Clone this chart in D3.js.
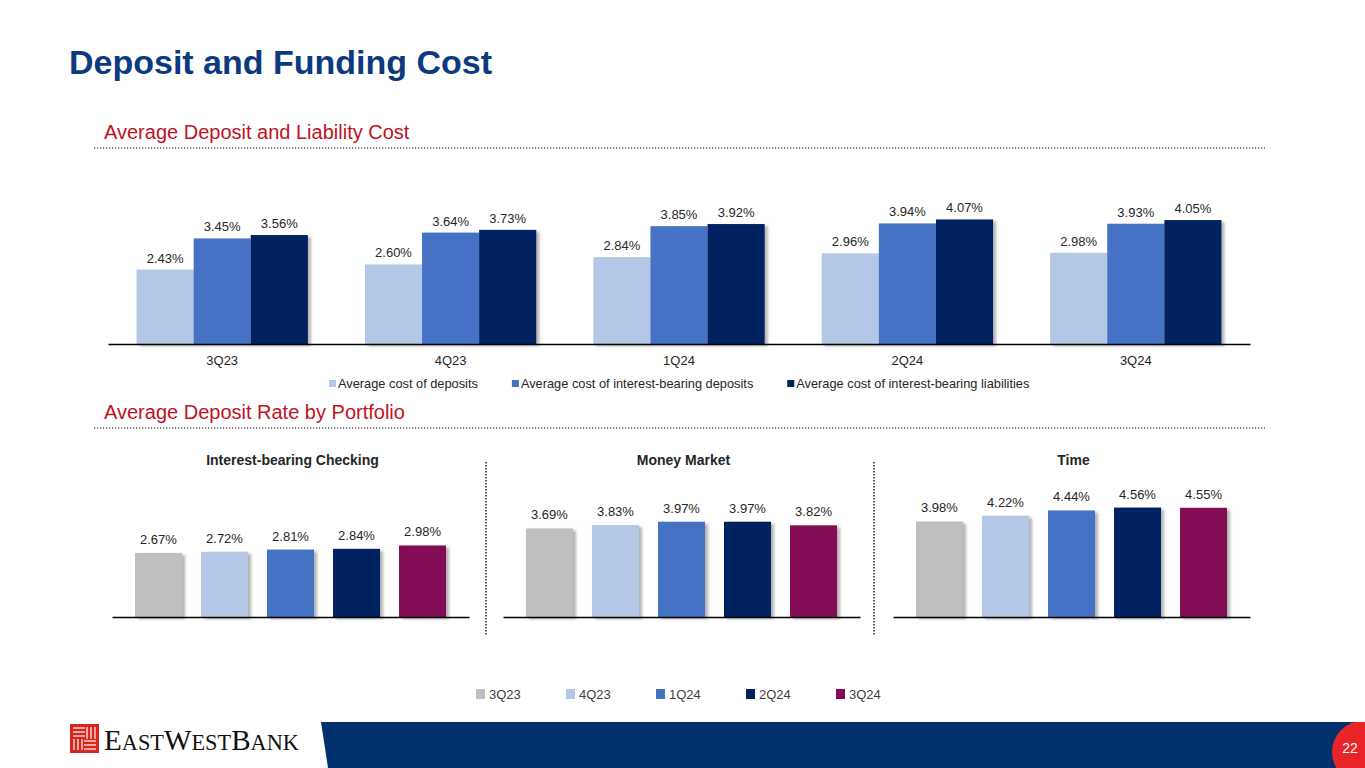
<!DOCTYPE html>
<html>
<head>
<meta charset="utf-8">
<script src="https://cdn.jsdelivr.net/npm/d3@7"></script>
<style>
  html, body { margin: 0; padding: 0; background: #fff; }
  svg { display: block; font-family: "Liberation Sans", Arial, sans-serif; }
</style>
</head>
<body>
<svg id="slide" width="1365" height="768"></svg>
<script>
// quarters shared by both charts
var quarters = ["3Q23", "4Q23", "1Q24", "2Q24", "3Q24"];

// top chart: average deposit and liability cost (%)
var costSeries = ["Average cost of deposits",
                  "Average cost of interest-bearing deposits",
                  "Average cost of interest-bearing liabilities"];
var costDeposits      = [2.43, 2.60, 2.84, 2.96, 2.98];
var costIBDeposits    = [3.45, 3.64, 3.85, 3.94, 3.93];
var costIBLiabilities = [3.56, 3.73, 3.92, 4.07, 4.05];

// bottom charts: average deposit rate by portfolio (%)
var portfolios       = ["Interest-bearing Checking", "Money Market", "Time"];
var checkingRates    = [2.67, 2.72, 2.81, 2.84, 2.98];
var moneyMarketRates = [3.69, 3.83, 3.97, 3.97, 3.82];
var timeRates        = [3.98, 4.22, 4.44, 4.56, 4.55];

var costColors    = ["#B4C7E7", "#4472C4", "#002060"];
var quarterColors = ["#BFBFBF", "#B4C7E7", "#4472C4", "#002060", "#820C55"];

var fmt = d => d.toFixed(2) + "%";

var svg = d3.select("#slide");

// soft shadow like the PowerPoint bars
var defs = svg.append("defs");
var shadow = defs.append("filter").attr("id", "shadow")
  .attr("x", "-10%").attr("y", "-10%").attr("width", "130%").attr("height", "130%");
shadow.append("feDropShadow")
  .attr("dx", 3).attr("dy", 2).attr("stdDeviation", 1.5)
  .attr("flood-color", "#000").attr("flood-opacity", 0.3);

// ---- headings ----
svg.append("text")
  .attr("x", 69).attr("y", 74)
  .attr("font-size", 34).attr("font-weight", "bold")
  .attr("fill", "#0B3A7E")
  .text("Deposit and Funding Cost");

function sectionHeader(label, y) {
	svg.append("text")
	  .attr("x", 104).attr("y", y)
	  .attr("font-size", 20).attr("fill", "#C0111F")
	  .text(label);
	svg.append("line")
	  .attr("x1", 94).attr("x2", 1265)
	  .attr("y1", y + 9).attr("y2", y + 9)
	  .attr("stroke", "#808080").attr("stroke-width", 2)
	  .attr("stroke-dasharray", "1.2,1.8");
}
sectionHeader("Average Deposit and Liability Cost", 139);
sectionHeader("Average Deposit Rate by Portfolio", 419);

// ---- top grouped bar chart ----
var costValues = [costDeposits, costIBDeposits, costIBLiabilities];
var costRows = quarters.map((q, i) => ({
	quarter: q,
	values: costSeries.map((s, j) => ({ series: s, idx: j, value: costValues[j][i] }))
}));

var x0 = d3.scaleBand().domain(quarters).range([108, 1250])
  .paddingInner(0.25).paddingOuter(0.125);
var x1 = d3.scaleBand().domain(costSeries).range([0, x0.bandwidth()]);
var yTop = d3.scaleLinear().domain([0, 5]).range([344, 344 - 153]);

var groups = svg.append("g").selectAll("g")
  .data(costRows).join("g")
  .attr("transform", d => "translate(" + x0(d.quarter) + ",0)");

groups.selectAll("rect")
  .data(d => d.values).join("rect")
  .attr("x", d => x1(d.series))
  .attr("y", d => yTop(d.value))
  .attr("width", x1.bandwidth())
  .attr("height", d => yTop(0) - yTop(d.value))
  .attr("fill", d => costColors[d.idx])
  .attr("filter", "url(#shadow)");

groups.selectAll("text.val")
  .data(d => d.values).join("text")
  .attr("class", "val")
  .attr("x", d => x1(d.series) + x1.bandwidth() / 2)
  .attr("y", d => yTop(d.value) - 7)
  .attr("text-anchor", "middle")
  .attr("font-size", 13).attr("fill", "#262626")
  .text(d => fmt(d.value));

var xAxisTop = svg.append("g")
  .attr("transform", "translate(0," + yTop(0) + ")")
  .call(d3.axisBottom(x0).tickSize(0).tickPadding(12));
xAxisTop.select(".domain").attr("stroke", "#000").attr("stroke-width", 1.5);
xAxisTop.selectAll("text")
  .attr("font-size", 13).attr("fill", "#262626")
  .attr("font-family", "Liberation Sans, Arial, sans-serif");

// legend for top chart
var legTop = svg.append("g").attr("transform", "translate(329,388)");
var lx = 0;
costSeries.forEach(function (s, i) {
	var item = legTop.append("g").attr("transform", "translate(" + lx + ",0)");
	item.append("rect")
	  .attr("x", 0).attr("y", -8).attr("width", 7).attr("height", 7)
	  .attr("fill", costColors[i]);
	var t = item.append("text")
	  .attr("x", 9).attr("y", 0)
	  .attr("font-size", 12.8).attr("fill", "#262626")
	  .text(s);
	lx += 9 + t.node().getComputedTextLength() + 34;
});

// ---- bottom small multiples ----
var portfolioValues = [checkingRates, moneyMarketRates, timeRates];
var panelLeft = [112, 503, 893];
var panelWidth = 357;
var yBot = d3.scaleLinear().domain([0, 5]).range([617, 617 - 120]);

portfolios.forEach(function (name, p) {
	var xb = d3.scaleBand().domain(quarters)
	  .range([panelLeft[p], panelLeft[p] + panelWidth])
	  .paddingInner(0.288).paddingOuter(0.348);
	var g = svg.append("g");
	var rows = quarters.map((q, i) => ({ quarter: q, idx: i, value: portfolioValues[p][i] }));

	g.append("text")
	  .attr("x", panelLeft[p] + panelWidth / 2 + 2).attr("y", 465)
	  .attr("text-anchor", "middle")
	  .attr("font-size", 14).attr("font-weight", "bold").attr("fill", "#262626")
	  .text(name);

	g.selectAll("rect").data(rows).join("rect")
	  .attr("x", d => xb(d.quarter))
	  .attr("y", d => yBot(d.value))
	  .attr("width", xb.bandwidth())
	  .attr("height", d => yBot(0) - yBot(d.value))
	  .attr("fill", d => quarterColors[d.idx])
	  .attr("filter", "url(#shadow)");

	g.selectAll("text.val").data(rows).join("text")
	  .attr("class", "val")
	  .attr("x", d => xb(d.quarter) + xb.bandwidth() / 2)
	  .attr("y", d => yBot(d.value) - 9)
	  .attr("text-anchor", "middle")
	  .attr("font-size", 13).attr("fill", "#262626")
	  .text(d => fmt(d.value));

	var ax = g.append("g")
	  .attr("transform", "translate(0," + yBot(0) + ")")
	  .call(d3.axisBottom(xb).tickSize(0).tickFormat(""));
	ax.select(".domain").attr("stroke", "#000").attr("stroke-width", 1.5);
});

// dotted separators between panels
[486, 874].forEach(function (x) {
	svg.append("line")
	  .attr("x1", x).attr("x2", x).attr("y1", 462).attr("y2", 636)
	  .attr("stroke", "#595959").attr("stroke-width", 2)
	  .attr("stroke-dasharray", "1.5,1.5");
});

// bottom legend
var legBot = svg.append("g").attr("transform", "translate(476,699)");
quarters.forEach(function (q, i) {
	var item = legBot.append("g").attr("transform", "translate(" + (i * 90) + ",0)");
	item.append("rect")
	  .attr("x", 0).attr("y", -10).attr("width", 9).attr("height", 10)
	  .attr("fill", quarterColors[i]);
	item.append("text")
	  .attr("x", 13).attr("y", 0)
	  .attr("font-size", 13).attr("fill", "#404040")
	  .text(q);
});

// ---- footer ----
defs.append("clipPath").attr("id", "band")
  .append("polygon").attr("points", "321,722 1365,722 1365,768 328,768");
svg.append("polygon")
  .attr("points", "321,722 1365,722 1365,768 328,768")
  .attr("fill", "#00306E");
svg.append("circle")
  .attr("cx", 1363).attr("cy", 752).attr("r", 31)
  .attr("fill", "#E8262A")
  .attr("clip-path", "url(#band)");
svg.append("text")
  .attr("x", 1350).attr("y", 753)
  .attr("text-anchor", "middle")
  .attr("font-size", 14).attr("fill", "#fff")
  .text("22");

// logo mark
var logo = svg.append("g").attr("transform", "translate(70,724)");
logo.append("rect").attr("width", 29).attr("height", 29).attr("fill", "#D9261C");
[4, 8, 12].forEach(function (y) {
	logo.append("line").attr("x1", 3).attr("x2", 15).attr("y1", y).attr("y2", y)
	  .attr("stroke", "#fff").attr("stroke-width", 1.2);
});
[17, 21, 25].forEach(function (x) {
	logo.append("line").attr("x1", x).attr("x2", x).attr("y1", 3).attr("y2", 15)
	  .attr("stroke", "#fff").attr("stroke-width", 1.2);
});
[17, 21, 25].forEach(function (y) {
	logo.append("line").attr("x1", 14).attr("x2", 26).attr("y1", y).attr("y2", y)
	  .attr("stroke", "#fff").attr("stroke-width", 1.2);
});
[4, 8, 12].forEach(function (x) {
	logo.append("line").attr("x1", x).attr("x2", x).attr("y1", 15).attr("y2", 26)
	  .attr("stroke", "#fff").attr("stroke-width", 1.2);
});

var word = svg.append("text")
  .attr("x", 104).attr("y", 750)
  .attr("font-family", "Liberation Serif, Times New Roman, serif")
  .attr("fill", "#111")
  .attr("textLength", 195).attr("lengthAdjust", "spacingAndGlyphs");
[["E", 30], ["AST", 23], ["W", 30], ["EST", 23], ["B", 30], ["ANK", 23]].forEach(function (p) {
	word.append("tspan").attr("font-size", p[1]).text(p[0]);
});
</script>
</body>
</html>
